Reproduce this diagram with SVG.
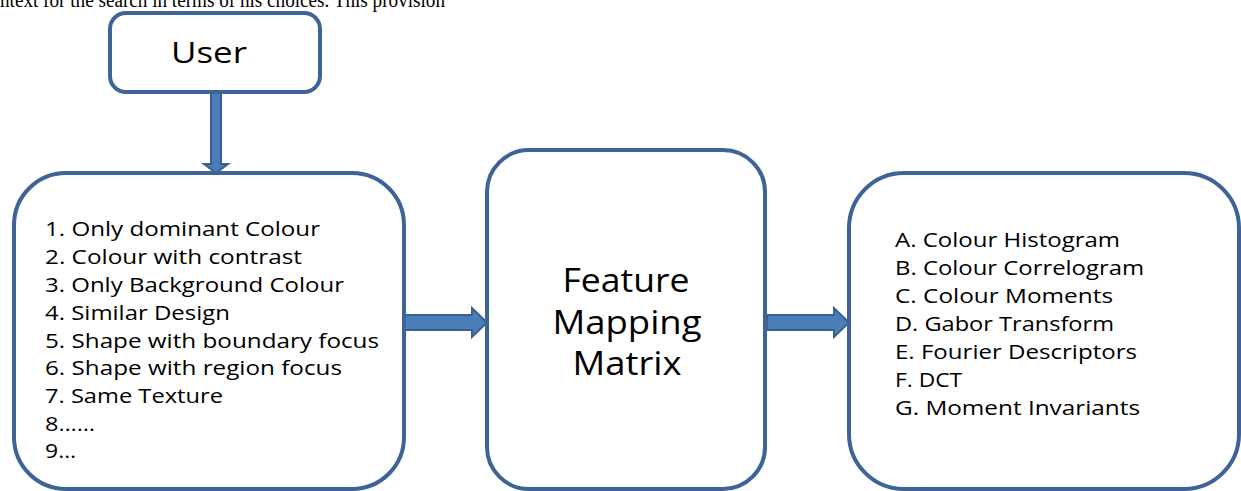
<svg xmlns="http://www.w3.org/2000/svg" width="1241" height="491" viewBox="0 0 1241 491">
<defs>
<style>
.box{fill:#ffffff;stroke:#3E6396;stroke-width:4}
.arrow{fill:#4A7EBB;stroke:#3A6092;stroke-width:2;stroke-linejoin:miter}
.t{font-family:"Open Sans","Noto Sans",sans-serif;fill:#000000}
.list{font-size:20px}
.big{font-size:32px;text-anchor:middle}
.top{font-family:"Liberation Serif","Times New Roman",serif;font-size:20px;fill:#000000}
</style>
</defs>
<rect width="1241" height="491" fill="#ffffff"/>
<text class="top" x="0" y="7" textLength="445" lengthAdjust="spacingAndGlyphs">ntext for the search in terms of his choices. This provision</text>
<g id="connectors">
<path class="arrow" d="M211 93 L221 93 L221 164 L228 164 L216 173 L204 164 L211 164 Z"/>
<path class="arrow" d="M405 315 L472 315 L472 308 L487 322.5 L472 337 L472 330 L405 330 Z"/>
<path class="arrow" d="M767 315 L834 315 L834 308 L849 322.5 L834 337 L834 330 L767 330 Z"/>
</g>
<g id="user">
<rect class="box" x="110" y="13" width="210" height="79" rx="16"/>
<text class="t" x="209" y="63" font-size="29" text-anchor="middle" textLength="76" lengthAdjust="spacingAndGlyphs">User</text>
</g>
<g id="choices">
<rect class="box" x="14" y="173" width="390" height="316" rx="52"/>
<text class="t list" x="45" y="236" textLength="275" lengthAdjust="spacingAndGlyphs">1. Only dominant Colour</text>
<text class="t list" x="45" y="264" textLength="257" lengthAdjust="spacingAndGlyphs">2. Colour with contrast</text>
<text class="t list" x="45" y="292" textLength="299" lengthAdjust="spacingAndGlyphs">3. Only Background Colour</text>
<text class="t list" x="45" y="320" textLength="185" lengthAdjust="spacingAndGlyphs">4. Similar Design</text>
<text class="t list" x="45" y="348" textLength="334" lengthAdjust="spacingAndGlyphs">5. Shape with boundary focus</text>
<text class="t list" x="45" y="375" textLength="297" lengthAdjust="spacingAndGlyphs">6. Shape with region focus</text>
<text class="t list" x="45" y="403" textLength="178" lengthAdjust="spacingAndGlyphs">7. Same Texture</text>
<text class="t list" x="45" y="431" textLength="50" lengthAdjust="spacingAndGlyphs">8……</text>
<text class="t list" x="45" y="458" textLength="31" lengthAdjust="spacingAndGlyphs">9…</text>
</g>
<g id="matrix">
<rect class="box" x="487" y="150" width="278" height="339" rx="42"/>
<text class="t big" x="626" y="292" textLength="127" lengthAdjust="spacingAndGlyphs">Feature</text>
<text class="t big" x="627" y="334" textLength="149" lengthAdjust="spacingAndGlyphs">Mapping</text>
<text class="t big" x="627" y="375" textLength="109" lengthAdjust="spacingAndGlyphs">Matrix</text>
</g>
<g id="features">
<rect class="box" x="849" y="173" width="390" height="316" rx="55"/>
<text class="t list" x="895" y="247" textLength="225" lengthAdjust="spacingAndGlyphs">A. Colour Histogram</text>
<text class="t list" x="895" y="275" textLength="249" lengthAdjust="spacingAndGlyphs">B. Colour Correlogram</text>
<text class="t list" x="895" y="303" textLength="218" lengthAdjust="spacingAndGlyphs">C. Colour Moments</text>
<text class="t list" x="895" y="331" textLength="219" lengthAdjust="spacingAndGlyphs">D. Gabor Transform</text>
<text class="t list" x="895" y="359" textLength="242" lengthAdjust="spacingAndGlyphs">E. Fourier Descriptors</text>
<text class="t list" x="895" y="387" textLength="67" lengthAdjust="spacingAndGlyphs">F. DCT</text>
<text class="t list" x="895" y="415" textLength="245" lengthAdjust="spacingAndGlyphs">G. Moment Invariants</text>
</g>
</svg>
